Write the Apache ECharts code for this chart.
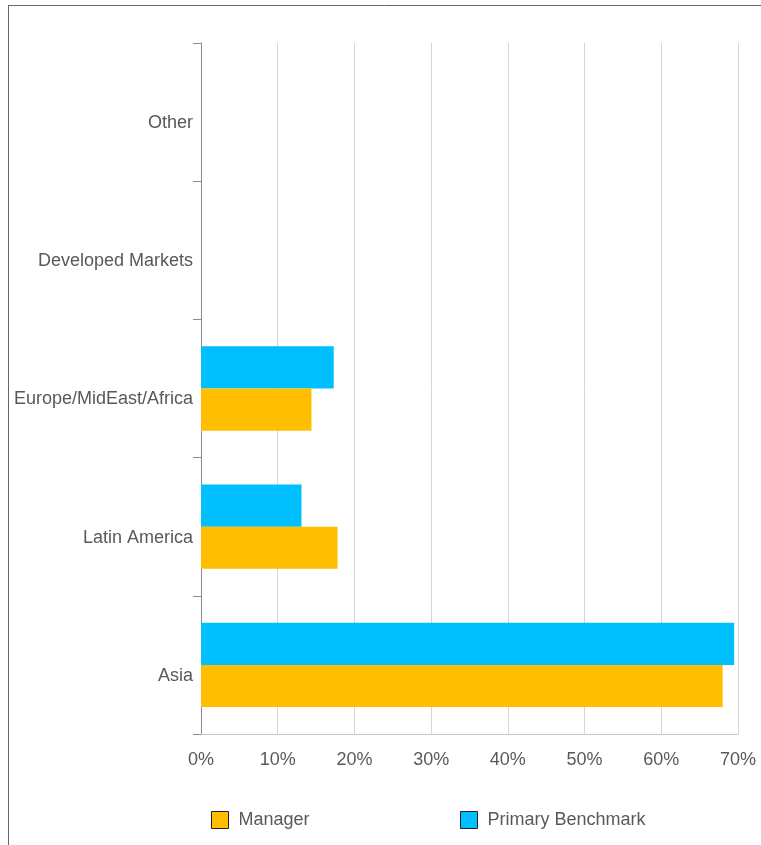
<!DOCTYPE html>
<html><head><meta charset="utf-8">
<script src="https://cdn.jsdelivr.net/npm/echarts@6/dist/echarts.min.js"></script>
<style>html,body{margin:0;padding:0;background:#fff}#c{width:761px;height:845px}</style>
</head><body><div id="c"></div>
<script>
const categories = ['Asia', 'Latin America', 'Europe/MidEast/Africa', 'Developed Markets', 'Other'];
const manager = [68.0, 17.8, 14.4, null, null];
const benchmark = [69.5, 13.1, 17.3, null, null];
const xTicks = [0, 10, 20, 30, 40, 50, 60, 70];

const chart = echarts.init(document.getElementById('c'), null, {renderer: 'canvas'});
const font = 'Liberation Sans, Arial, sans-serif';
chart.setOption({
  animation: false,
  grid: {left: 201, right: 23, top: 43, bottom: 111, containLabel: false},
  xAxis: {
    type: 'value', min: xTicks[0], max: xTicks[xTicks.length - 1], interval: 10,
    axisLine: {show: true, lineStyle: {color: '#c8c8c8', width: 1}},
    axisTick: {show: false},
    splitLine: {show: true, lineStyle: {color: '#d6d6d6', width: 1}},
    axisLabel: {formatter: '{value}%', color: '#595959', fontSize: 18, fontFamily: font, margin: 17}
  },
  yAxis: {
    type: 'category', data: categories,
    axisLine: {show: true, lineStyle: {color: '#8c8c8c', width: 1}},
    axisTick: {show: true, length: 8, lineStyle: {color: '#8c8c8c'}},
    axisLabel: {color: '#595959', fontSize: 18, fontFamily: font, margin: 8,
                verticalAlign: 'top', lineHeight: 22},
    splitLine: {show: false}
  },
  legend: [
    {left: 211, top: 811, padding: 0, icon: 'rect', itemWidth: 17, itemHeight: 17, data: ['Manager'],
     itemStyle: {borderColor: '#222', borderWidth: 1},
     textStyle: {color: '#595959', fontSize: 18, fontFamily: font, padding: [0, 0, 0, 5]}},
    {left: 460, top: 811, padding: 0, icon: 'rect', itemWidth: 17, itemHeight: 17, data: ['Primary Benchmark'],
     itemStyle: {borderColor: '#222', borderWidth: 1},
     textStyle: {color: '#595959', fontSize: 18, fontFamily: font, padding: [0, 0, 0, 5]}}
  ],
  series: [
    {name: 'Primary Benchmark', type: 'bar', data: benchmark, barGap: '0%', barCategoryGap: '39%',
     itemStyle: {color: '#00bfff'}},
    {name: 'Manager', type: 'bar', data: manager, barGap: '0%', barCategoryGap: '39%',
     itemStyle: {color: '#ffbf00'}}
  ],
  graphic: [
    {type: 'line', shape: {x1: 8, y1: 5.5, x2: 761, y2: 5.5}, style: {stroke: '#666', lineWidth: 1}},
    {type: 'line', shape: {x1: 8.5, y1: 5, x2: 8.5, y2: 845}, style: {stroke: '#666', lineWidth: 1}}
  ]
});
</script></body></html>
